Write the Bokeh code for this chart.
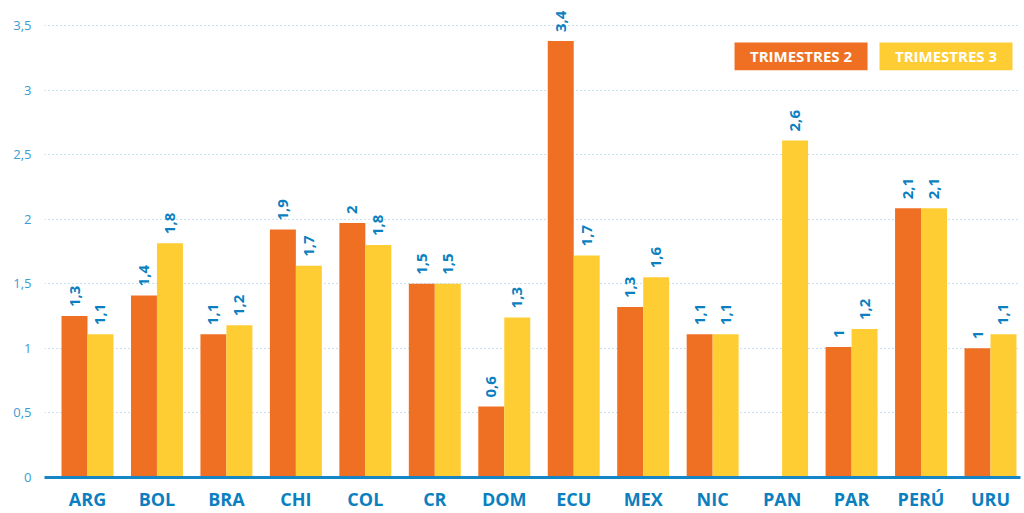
import math
from bokeh.plotting import figure
from bokeh.models import ColumnDataSource, Range1d, FixedTicker, BoxAnnotation, Label
from bokeh.core.properties import value
from bokeh.embed import file_html
from bokeh.resources import INLINE

categories = ["ARG", "BOL", "BRA", "CHI", "COL", "CR", "DOM", "ECU", "MEX", "NIC", "PAN", "PAR", "PERÚ", "URU"]
trim2 = [1.25, 1.41, 1.11, 1.92, 1.97, 1.50, 0.55, 3.38, 1.32, 1.11, None, 1.01, 2.085, 1.00]
trim3 = [1.11, 1.815, 1.18, 1.64, 1.80, 1.50, 1.24, 1.72, 1.55, 1.11, 2.61, 1.15, 2.085, 1.11]
trim2_labels = ["1,3", "1,4", "1,1", "1,9", "2", "1,5", "0,6", "3,4", "1,3", "1,1", None, "1", "2,1", "1"]
trim3_labels = ["1,1", "1,8", "1,2", "1,7", "1,8", "1,5", "1,3", "1,7", "1,6", "1,1", "2,6", "1,2", "2,1", "1,1"]
series_names = ["TRIMESTRES 2", "TRIMESTRES 3"]
y_ticks = [0, 0.5, 1, 1.5, 2, 2.5, 3, 3.5]

ORANGE = "#F07023"
YELLOW = "#FECD34"
BLUE = "#0B7FC0"
TICKBLUE = "#3D9BD4"
FONT = "Open Sans"

BAR_W = 0.374
OFF = BAR_W / 2

p = figure(width=1024, height=513, output_backend="svg", toolbar_location=None,
           x_range=Range1d(-0.619, 13.432), y_range=Range1d(0, 3.694),
           min_border_left=44, min_border_right=4, min_border_top=0, min_border_bottom=33)
p.outline_line_color = None
p.background_fill_color = "white"
p.border_fill_color = "white"

def build(vals, labels, shift):
    xs, tops, lbls = [], [], []
    for i, (v, l) in enumerate(zip(vals, labels)):
        if v is None:
            continue
        xs.append(i + shift)
        tops.append(v)
        lbls.append(l)
    return ColumnDataSource(dict(x=xs, top=tops, label=lbls))

s2 = build(trim2, trim2_labels, -OFF)
s3 = build(trim3, trim3_labels, OFF)

for src, col in ((s2, ORANGE), (s3, YELLOW)):
    p.vbar(x="x", top="top", width=BAR_W, bottom=0, source=src, fill_color=col, line_color=None)
    p.text(x="x", y="top", text="label", source=src, angle=math.pi / 2,
           text_align="left", text_baseline="middle", y_offset=-9,
           text_font=value(FONT), text_font_style="bold", text_font_size="15px",
           text_color=BLUE)

# x axis
p.xaxis.ticker = FixedTicker(ticks=list(range(len(categories))))
p.xaxis.major_label_overrides = {i: c for i, c in enumerate(categories)}
p.xaxis.axis_line_color = "#1585C5"
p.xaxis.axis_line_width = 3
p.xaxis.major_tick_line_color = None
p.xaxis.minor_tick_line_color = None
p.xaxis.major_tick_in = 0
p.xaxis.major_tick_out = 0
p.xaxis.major_label_text_font = FONT
p.xaxis.major_label_text_font_style = "bold"
p.xaxis.major_label_text_font_size = "18px"
p.xaxis.major_label_text_color = BLUE
p.xaxis.major_label_standoff = 9
p.xgrid.grid_line_color = None

# y axis
p.yaxis.ticker = FixedTicker(ticks=y_ticks)
p.yaxis.major_label_overrides = {t: f"{t:g}".replace(".", ",") for t in y_ticks}
p.yaxis.axis_line_color = None
p.yaxis.major_tick_line_color = None
p.yaxis.minor_tick_line_color = None
p.yaxis.major_tick_in = 0
p.yaxis.major_tick_out = 0
p.yaxis.major_label_text_font = FONT
p.yaxis.major_label_text_font_size = "13px"
p.yaxis.major_label_text_color = TICKBLUE
p.yaxis.major_label_standoff = 13
p.ygrid.grid_line_color = "#8FC3E2"
p.ygrid.grid_line_dash = "1 3"
p.ygrid.grid_line_width = 1

# legend boxes (in data coordinates)
legend_boxes = [(9.315, 11.23, ORANGE), (11.402, 13.317, YELLOW)]
LEG_BOTTOM, LEG_TOP = 3.153, 3.369
for (l, r, col), name in zip(legend_boxes, series_names):
    p.add_layout(BoxAnnotation(left=l, right=r, bottom=LEG_BOTTOM, top=LEG_TOP,
                               fill_color=col, fill_alpha=1, line_color=None))
    p.add_layout(Label(x=(l + r) / 2, y=(LEG_BOTTOM + LEG_TOP) / 2, text=name,
                       text_align="center", text_baseline="middle",
                       text_font=FONT, text_font_style="bold", text_font_size="15px",
                       text_color="white"))

open("out.html", "w").write(file_html(p, INLINE))
